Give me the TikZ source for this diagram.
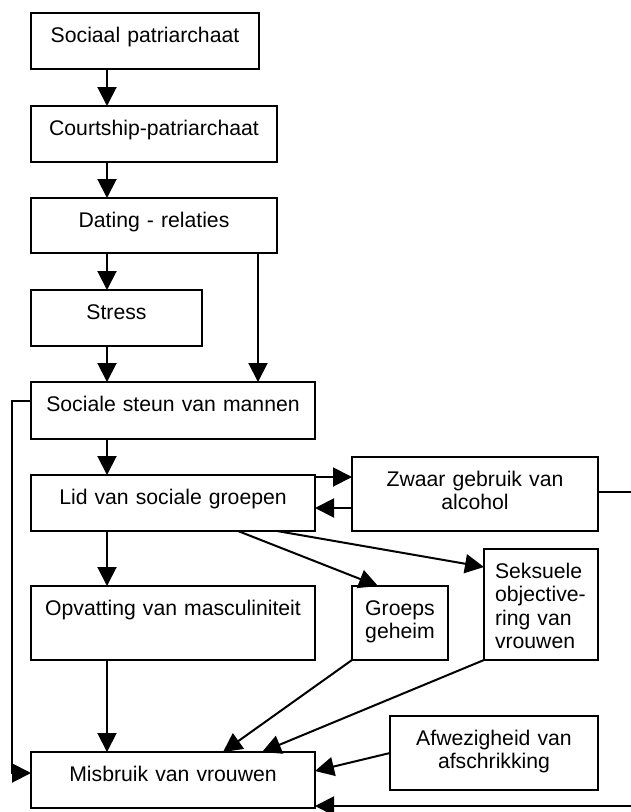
\documentclass[tikz,border=0pt]{standalone}
\usepackage{fontspec}
\setmainfont{Liberation Sans}
\usetikzlibrary{arrows.meta,calc}
\tikzset{
  box/.style={draw, line width=2pt, inner sep=0pt, outer sep=0pt, align=center,
    text height=29pt, anchor=north west, font=\fontsize{21.2pt}{23.5pt}\selectfont},
  arr/.style={line width=2pt, -{Triangle[length=19pt,width=19pt]}},
  plain/.style={line width=2pt}
}
\begin{document}
\begin{tikzpicture}[x=1pt,y=-1pt]
\useasboundingbox (0,0) rectangle (631,812);
\clip (0,0) rectangle (631,812);
\node[box, text width=228pt, text depth=27pt] (soc) at (31,13) {Sociaal patriarchaat};
\node[box, text width=246pt, text depth=27pt] (court) at (31,106) {Courtship-patriarchaat};
\node[box, text width=246pt, text depth=26pt] (dating) at (31,198) {Dating - relaties};
\node[box, text width=171pt, text depth=27pt] (stress) at (31,290) {Stress};
\node[box, text width=284pt, text depth=28pt] (steun) at (31,382) {Sociale steun van mannen};
\node[box, text width=284pt, text depth=27pt] (lid) at (31,475) {Lid van sociale groepen};
\node[box, text width=246pt, text depth=45pt] (zwaar) at (352,457) {Zwaar gebruik van\\alcohol};
\node[box, text width=284pt, text depth=45pt] (opv) at (31,586) {Opvatting van masculiniteit};
\node[box, text width=96pt, text depth=45pt] (groeps) at (352,586) {Groeps\\geheim};
\node[box, align=left, inner xsep=11pt, text width=92pt, text depth=82pt] (seks) at (484,549) {Seksuele\\\mbox{objective-}\\ring van\\vrouwen};
\node[box, text width=208pt, text depth=45pt] (afw) at (390,716) {Afwezigheid van\\afschrikking};
\node[box, text width=284pt, text depth=27pt] (misb) at (31,752) {Misbruik van vrouwen};

\draw[arr] ($(soc.south west)+(76,0)$) -- ($(court.north west)+(76,0)$);
\draw[arr] ($(court.south west)+(76,0)$) -- ($(dating.north west)+(76,0)$);
\draw[arr] ($(dating.south west)+(76,0)$) -- ($(stress.north west)+(76,0)$);
\draw[arr] ($(stress.south west)+(76,0)$) -- ($(steun.north west)+(76,0)$);
\draw[arr] ($(dating.south west)+(227,0)$) -- ($(steun.north west)+(227,0)$);
\draw[arr] ($(steun.south west)+(76,0)$) -- ($(lid.north west)+(76,0)$);
\draw[arr] ($(lid.south west)+(76,0)$) -- ($(opv.north west)+(76,0)$);
\draw[arr] ($(opv.south west)+(76,0)$) -- ($(misb.north west)+(76,0)$);
\draw[arr] ($(steun.north west)+(0,19)$) -- ++(-19,0) |- ($(misb.north west)+(0,21)$);
\draw[arr] ($(lid.north east)+(0,2)$) -- ($(zwaar.north west)+(0,20)$);
\draw[arr] ($(zwaar.north west)+(0,51)$) -- ($(lid.north east)+(0,33)$);
\draw[arr] ($(zwaar.north east)+(0,35)$) -- ++(60,0) |- ($(misb.south east)+(0,-2)$);
\draw[arr] ($(lid.south west)+(207,0)$) -- ($(groeps.north west)+(26,0)$);
\draw[arr] ($(lid.south west)+(246,0)$) -- ($(seks.north west)+(0,18)$);
\draw[arr] (groeps.south west) -- ($(misb.north west)+(192,0)$);
\draw[arr] (seks.south west) -- ($(misb.north west)+(231,0)$);
\draw[arr] ($(afw.north west)+(0,37)$) -- ($(misb.north east)+(0,19)$);
\end{tikzpicture}
\end{document}
